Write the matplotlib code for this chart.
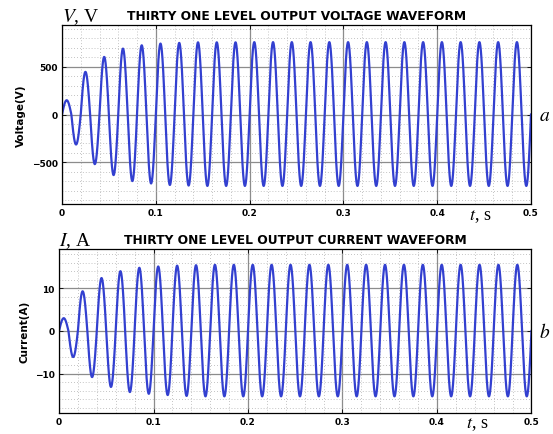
import matplotlib
matplotlib.use("Agg")
import matplotlib.pyplot as plt
from matplotlib.ticker import MultipleLocator
import numpy as np

# supply frequency (Hz) of both waveforms
FREQ = 50

# half-cycle peak magnitudes (one value per 10 ms)
v_peaks = [150, 315, 448, 521, 605, 636, 692, 699, 727, 724,
           745, 740, 752, 746, 758, 750, 758, 750, 758, 750,
           760, 750, 760, 750, 760, 750, 760, 750, 760, 750,
           760, 750, 760, 750, 760, 750, 760, 750, 760, 750,
           760, 750, 760, 750, 760, 750, 760, 750, 760, 750]
i_peaks = [3.0, 6.1, 9.3, 10.8, 12.4, 13.1, 14.0, 14.3, 14.8, 14.7,
           15.1, 15.0, 15.3, 15.2, 15.4, 15.3, 15.5, 15.3, 15.5, 15.3,
           15.5, 15.3, 15.5, 15.3, 15.5, 15.3, 15.5, 15.3, 15.5, 15.3,
           15.5, 15.3, 15.5, 15.3, 15.5, 15.3, 15.5, 15.3, 15.5, 15.3,
           15.5, 15.3, 15.5, 15.3, 15.5, 15.3, 15.5, 15.3, 15.5, 15.3]

x_ticks = [0, 0.1, 0.2, 0.3, 0.4, 0.5]
x_tick_labels = ["0", "0.1", "0.2", "0.3", "0.4", "0.5"]
v_ticks = [-500, 0, 500]
i_ticks = [-10, 0, 10]

LINE_COLOR = "#3340d0"


def _waveform(t, peaks):
    """
    Build the waveform from the half-cycle peak magnitudes
    """
    k = np.clip((t * 2 * FREQ).astype(int), 0, len(peaks) - 1)
    return np.asarray(peaks)[k] * np.sin(2 * np.pi * FREQ * t)


def _style_axes(ax, yticks, ylim, yminor, ylabel, title):
    """
    MATLAB-like look: major solid grid, minor dotted grid
    """
    ax.set_xlim(0, 0.5)
    ax.set_ylim(*ylim)
    ax.set_xticks(x_ticks)
    ax.set_xticklabels(x_tick_labels)
    ax.set_yticks(yticks)
    ax.xaxis.set_minor_locator(MultipleLocator(0.02))
    ax.yaxis.set_minor_locator(MultipleLocator(yminor))
    ax.grid(which="major", color="#8c8c8c", linewidth=0.9, linestyle="-")
    ax.grid(which="minor", color="#b0b0b0", linewidth=0.6,
            linestyle=(0, (1, 2.5)))
    ax.set_axisbelow(True)
    ax.tick_params(which="major", direction="in", length=3, width=0.6,
                   top=True, right=True, labelsize=6.5, pad=3)
    ax.tick_params(which="minor", length=0)
    for lab in ax.get_xticklabels() + ax.get_yticklabels():
        lab.set_fontweight("bold")
    for sp in ax.spines.values():
        sp.set_linewidth(0.9)
    ax.set_ylabel(ylabel, fontsize=7.5, fontweight="bold", labelpad=4)
    ax.set_title(title, fontsize=8.8, fontweight="bold", pad=4)


def main():
    plt.rcParams["mathtext.fontset"] = "stix"
    fig = plt.figure(figsize=(5.53, 4.35), dpi=100)
    ax1 = fig.add_axes([0.1121, 0.5287, 0.8481, 0.4115])
    ax2 = fig.add_axes([0.1067, 0.0483, 0.8544, 0.3770])

    t = np.linspace(0, 0.5, 5001)
    ax1.plot(t, _waveform(t, v_peaks), color=LINE_COLOR, linewidth=1.6)
    ax2.plot(t, _waveform(t, i_peaks), color=LINE_COLOR, linewidth=1.6)

    _style_axes(ax1, v_ticks, (-940, 940), 100, "Voltage(V)",
                "THIRTY ONE LEVEL OUTPUT VOLTAGE WAVEFORM")
    _style_axes(ax2, i_ticks, (-19.2, 19.2), 2, "Current(A)",
                "THIRTY ONE LEVEL OUTPUT CURRENT WAVEFORM")

    serif = "Liberation Serif"
    fig.text(62 / 553, 1 - 22 / 435, "$V$, V", fontsize=14,
             family=serif, ha="left", va="baseline")
    fig.text(59 / 553, 1 - 246 / 435, "$I$, A", fontsize=14,
             family=serif, ha="left", va="baseline")
    fig.text(469 / 553, 1 - 220 / 435, "$t$, s", fontsize=13,
             family=serif, ha="left", va="baseline")
    fig.text(466 / 553, 1 - 428 / 435, "$t$, s", fontsize=13,
             family=serif, ha="left", va="baseline")
    fig.text(539 / 553, 1 - 116 / 435, "$a$", fontsize=14,
             ha="left", va="center")
    fig.text(539 / 553, 1 - 332 / 435, "$b$", fontsize=14,
             ha="left", va="center")

    fig.savefig("out.png", dpi=100)


if __name__ == "__main__":
    main()
